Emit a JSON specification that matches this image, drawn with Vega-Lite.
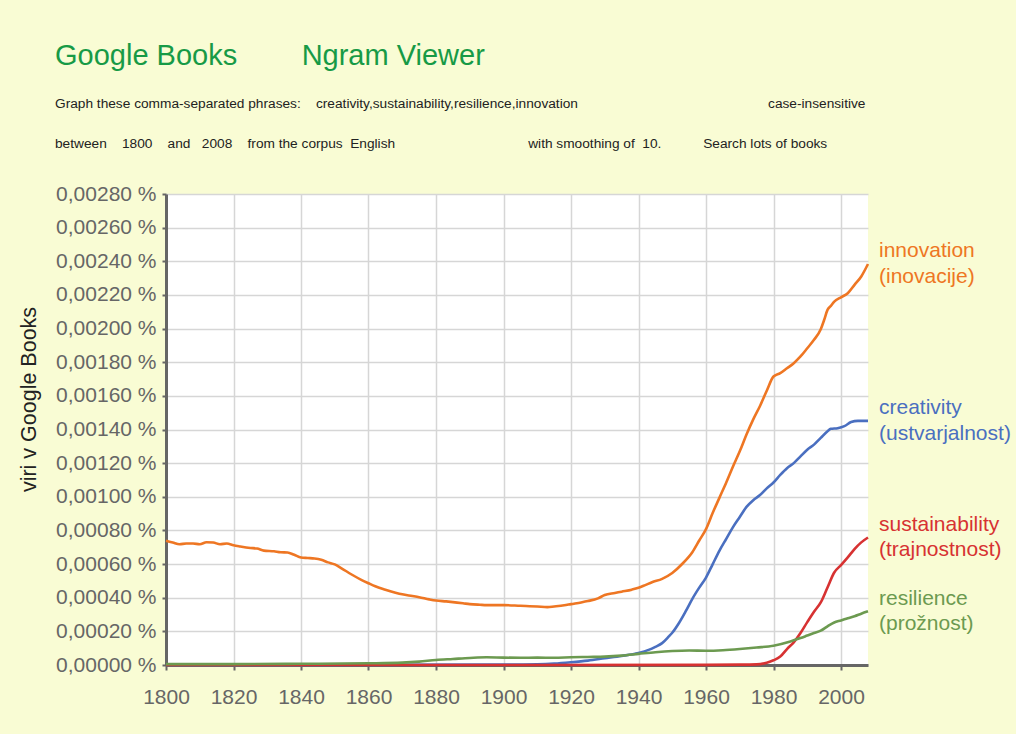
{
  "$schema": "https://vega.github.io/schema/vega-lite/v6.json",
  "width": 702,
  "height": 471,
  "autosize": {"type": "none"},
  "padding": {"left": 166, "top": 194, "right": 148, "bottom": 69},
  "background": "#f9fcd4",
  "title": {
    "text": "Google Books\u00a0\u00a0\u00a0\u00a0\u00a0\u00a0\u00a0 Ngram Viewer",
    "subtitle": [
      "Graph these comma-separated phrases:\u00a0\u00a0\u00a0\u00a0creativity,sustainability,resilience,innovation\u00a0\u00a0\u00a0\u00a0\u00a0\u00a0\u00a0\u00a0\u00a0\u00a0\u00a0\u00a0\u00a0\u00a0\u00a0\u00a0\u00a0\u00a0\u00a0\u00a0\u00a0\u00a0\u00a0\u00a0\u00a0\u00a0\u00a0\u00a0\u00a0\u00a0\u00a0\u00a0\u00a0\u00a0\u00a0\u00a0\u00a0\u00a0\u00a0\u00a0\u00a0\u00a0\u00a0\u00a0\u00a0\u00a0\u00a0\u00a0\u00a0\u00a0case-insensitive",
      "between\u00a0\u00a0\u00a0\u00a01800\u00a0\u00a0\u00a0\u00a0and\u00a0\u00a0\u00a02008\u00a0\u00a0\u00a0\u00a0from the corpus\u00a0\u00a0English\u00a0\u00a0\u00a0\u00a0\u00a0\u00a0\u00a0\u00a0\u00a0\u00a0\u00a0\u00a0\u00a0\u00a0\u00a0\u00a0\u00a0\u00a0\u00a0\u00a0\u00a0\u00a0\u00a0\u00a0\u00a0\u00a0\u00a0\u00a0\u00a0\u00a0\u00a0\u00a0\u00a0\u00a0\u00a0with smoothing of\u00a0\u00a010.\u00a0\u00a0\u00a0\u00a0\u00a0\u00a0\u00a0\u00a0\u00a0\u00a0\u00a0Search lots of books"
    ],
    "anchor": "start",
    "frame": "group",
    "dx": -111,
    "offset": 32,
    "font": "Liberation Sans",
    "fontSize": 29,
    "fontWeight": "normal",
    "color": "#179a46",
    "subtitleFont": "Liberation Sans",
    "subtitleFontSize": 13.7,
    "subtitleColor": "#222222",
    "subtitleLineHeight": 40,
    "subtitlePadding": 26
  },
  "config": {
    "view": {"fill": "white", "stroke": null},
    "axis": {
      "labelFont": "Liberation Sans",
      "titleFont": "Liberation Sans",
      "labelFontSize": 21,
      "labelColor": "#666666",
      "domainColor": "#666666",
      "domainWidth": 3,
      "tickColor": "#666666",
      "tickWidth": 2,
      "gridColor": "#d6d6d6",
      "gridWidth": 1.5
    }
  },
  "datasets": {
    "names": [
      {"w": "innovation", "label": "innovation\n(inovacije)"},
      {"w": "creativity", "label": "creativity\n(ustvarjalnost)"},
      {"w": "sustainability", "label": "sustainability\n(trajnostnost)"},
      {"w": "resilience", "label": "resilience\n(prožnost)"}
    ]
  },
  "data": {
    "values": [
      {"year": 1800, "w": "innovation", "v": 0.000738},
      {"year": 1802, "w": "innovation", "v": 0.000728},
      {"year": 1804, "w": "innovation", "v": 0.000718},
      {"year": 1806, "w": "innovation", "v": 0.000722},
      {"year": 1808, "w": "innovation", "v": 0.000722},
      {"year": 1810, "w": "innovation", "v": 0.000718},
      {"year": 1812, "w": "innovation", "v": 0.00073},
      {"year": 1814, "w": "innovation", "v": 0.000728},
      {"year": 1816, "w": "innovation", "v": 0.000718},
      {"year": 1818, "w": "innovation", "v": 0.000722},
      {"year": 1820, "w": "innovation", "v": 0.000712},
      {"year": 1822, "w": "innovation", "v": 0.000705},
      {"year": 1825, "w": "innovation", "v": 0.000696},
      {"year": 1827, "w": "innovation", "v": 0.000692},
      {"year": 1829, "w": "innovation", "v": 0.00068},
      {"year": 1832, "w": "innovation", "v": 0.000676},
      {"year": 1834, "w": "innovation", "v": 0.00067},
      {"year": 1836, "w": "innovation", "v": 0.000669},
      {"year": 1838, "w": "innovation", "v": 0.000655},
      {"year": 1840, "w": "innovation", "v": 0.000639},
      {"year": 1842, "w": "innovation", "v": 0.000636},
      {"year": 1844, "w": "innovation", "v": 0.000633},
      {"year": 1846, "w": "innovation", "v": 0.000625},
      {"year": 1848, "w": "innovation", "v": 0.00061},
      {"year": 1850, "w": "innovation", "v": 0.000598},
      {"year": 1852, "w": "innovation", "v": 0.000575},
      {"year": 1855, "w": "innovation", "v": 0.000538},
      {"year": 1858, "w": "innovation", "v": 0.000505},
      {"year": 1860, "w": "innovation", "v": 0.000486},
      {"year": 1862, "w": "innovation", "v": 0.000468},
      {"year": 1865, "w": "innovation", "v": 0.000448},
      {"year": 1868, "w": "innovation", "v": 0.00043},
      {"year": 1870, "w": "innovation", "v": 0.00042},
      {"year": 1873, "w": "innovation", "v": 0.00041},
      {"year": 1875, "w": "innovation", "v": 0.000403},
      {"year": 1878, "w": "innovation", "v": 0.00039},
      {"year": 1880, "w": "innovation", "v": 0.000383},
      {"year": 1883, "w": "innovation", "v": 0.000378},
      {"year": 1885, "w": "innovation", "v": 0.000374},
      {"year": 1888, "w": "innovation", "v": 0.000367},
      {"year": 1890, "w": "innovation", "v": 0.000362},
      {"year": 1893, "w": "innovation", "v": 0.000358},
      {"year": 1895, "w": "innovation", "v": 0.000356},
      {"year": 1900, "w": "innovation", "v": 0.000356},
      {"year": 1905, "w": "innovation", "v": 0.000352},
      {"year": 1910, "w": "innovation", "v": 0.000348},
      {"year": 1913, "w": "innovation", "v": 0.000344},
      {"year": 1915, "w": "innovation", "v": 0.000348},
      {"year": 1918, "w": "innovation", "v": 0.000355},
      {"year": 1920, "w": "innovation", "v": 0.000362},
      {"year": 1923, "w": "innovation", "v": 0.000372},
      {"year": 1925, "w": "innovation", "v": 0.00038},
      {"year": 1928, "w": "innovation", "v": 0.000396},
      {"year": 1930, "w": "innovation", "v": 0.000416},
      {"year": 1933, "w": "innovation", "v": 0.000428},
      {"year": 1935, "w": "innovation", "v": 0.000436},
      {"year": 1938, "w": "innovation", "v": 0.000448},
      {"year": 1940, "w": "innovation", "v": 0.000459},
      {"year": 1942, "w": "innovation", "v": 0.000475},
      {"year": 1944, "w": "innovation", "v": 0.000492},
      {"year": 1947, "w": "innovation", "v": 0.000512},
      {"year": 1950, "w": "innovation", "v": 0.000547},
      {"year": 1953, "w": "innovation", "v": 0.000602},
      {"year": 1956, "w": "innovation", "v": 0.000672},
      {"year": 1958, "w": "innovation", "v": 0.00074},
      {"year": 1960, "w": "innovation", "v": 0.000808},
      {"year": 1962, "w": "innovation", "v": 0.000905},
      {"year": 1964, "w": "innovation", "v": 0.000995},
      {"year": 1966, "w": "innovation", "v": 0.001085},
      {"year": 1968, "w": "innovation", "v": 0.00118},
      {"year": 1970, "w": "innovation", "v": 0.00127},
      {"year": 1972, "w": "innovation", "v": 0.00137},
      {"year": 1974, "w": "innovation", "v": 0.00146},
      {"year": 1976, "w": "innovation", "v": 0.00154},
      {"year": 1978, "w": "innovation", "v": 0.00163},
      {"year": 1980, "w": "innovation", "v": 0.001715},
      {"year": 1982, "w": "innovation", "v": 0.001735},
      {"year": 1984, "w": "innovation", "v": 0.001764},
      {"year": 1986, "w": "innovation", "v": 0.001794},
      {"year": 1988, "w": "innovation", "v": 0.001834},
      {"year": 1990, "w": "innovation", "v": 0.001883},
      {"year": 1992, "w": "innovation", "v": 0.001933},
      {"year": 1994, "w": "innovation", "v": 0.001996},
      {"year": 1995, "w": "innovation", "v": 0.002051},
      {"year": 1996, "w": "innovation", "v": 0.002111},
      {"year": 1997, "w": "innovation", "v": 0.002135},
      {"year": 1998, "w": "innovation", "v": 0.00216},
      {"year": 2000, "w": "innovation", "v": 0.002186},
      {"year": 2002, "w": "innovation", "v": 0.00221},
      {"year": 2004, "w": "innovation", "v": 0.00226},
      {"year": 2006, "w": "innovation", "v": 0.00231},
      {"year": 2008, "w": "innovation", "v": 0.002384},

      {"year": 1800, "w": "creativity", "v": 0.000001},
      {"year": 1850, "w": "creativity", "v": 0.000001},
      {"year": 1900, "w": "creativity", "v": 0.000002},
      {"year": 1910, "w": "creativity", "v": 0.000004},
      {"year": 1915, "w": "creativity", "v": 0.000008},
      {"year": 1920, "w": "creativity", "v": 0.000016},
      {"year": 1925, "w": "creativity", "v": 0.000026},
      {"year": 1930, "w": "creativity", "v": 0.00004},
      {"year": 1935, "w": "creativity", "v": 0.000054},
      {"year": 1940, "w": "creativity", "v": 0.000072},
      {"year": 1943, "w": "creativity", "v": 0.00009},
      {"year": 1945, "w": "creativity", "v": 0.000108},
      {"year": 1947, "w": "creativity", "v": 0.00013},
      {"year": 1949, "w": "creativity", "v": 0.00017},
      {"year": 1950, "w": "creativity", "v": 0.000192},
      {"year": 1952, "w": "creativity", "v": 0.00025},
      {"year": 1954, "w": "creativity", "v": 0.00032},
      {"year": 1956, "w": "creativity", "v": 0.000395},
      {"year": 1958, "w": "creativity", "v": 0.00046},
      {"year": 1960, "w": "creativity", "v": 0.00052},
      {"year": 1962, "w": "creativity", "v": 0.0006},
      {"year": 1964, "w": "creativity", "v": 0.00068},
      {"year": 1966, "w": "creativity", "v": 0.00075},
      {"year": 1968, "w": "creativity", "v": 0.00082},
      {"year": 1970, "w": "creativity", "v": 0.00088},
      {"year": 1972, "w": "creativity", "v": 0.00094},
      {"year": 1974, "w": "creativity", "v": 0.00098},
      {"year": 1976, "w": "creativity", "v": 0.00101},
      {"year": 1978, "w": "creativity", "v": 0.00105},
      {"year": 1980, "w": "creativity", "v": 0.001085},
      {"year": 1982, "w": "creativity", "v": 0.00113},
      {"year": 1984, "w": "creativity", "v": 0.00117},
      {"year": 1986, "w": "creativity", "v": 0.0012},
      {"year": 1988, "w": "creativity", "v": 0.00124},
      {"year": 1990, "w": "creativity", "v": 0.00128},
      {"year": 1992, "w": "creativity", "v": 0.00131},
      {"year": 1994, "w": "creativity", "v": 0.00135},
      {"year": 1996, "w": "creativity", "v": 0.00139},
      {"year": 1997, "w": "creativity", "v": 0.001404},
      {"year": 1999, "w": "creativity", "v": 0.001408},
      {"year": 2001, "w": "creativity", "v": 0.00142},
      {"year": 2003, "w": "creativity", "v": 0.001444},
      {"year": 2005, "w": "creativity", "v": 0.001451},
      {"year": 2008, "w": "creativity", "v": 0.001451},

      {"year": 1800, "w": "sustainability", "v": 0.0},
      {"year": 1900, "w": "sustainability", "v": 0.0},
      {"year": 1960, "w": "sustainability", "v": 0.000001},
      {"year": 1970, "w": "sustainability", "v": 0.000002},
      {"year": 1975, "w": "sustainability", "v": 0.000004},
      {"year": 1978, "w": "sustainability", "v": 0.000014},
      {"year": 1980, "w": "sustainability", "v": 0.000028},
      {"year": 1982, "w": "sustainability", "v": 0.00005},
      {"year": 1984, "w": "sustainability", "v": 0.000095},
      {"year": 1986, "w": "sustainability", "v": 0.000135},
      {"year": 1988, "w": "sustainability", "v": 0.00019},
      {"year": 1990, "w": "sustainability", "v": 0.000255},
      {"year": 1992, "w": "sustainability", "v": 0.000317},
      {"year": 1994, "w": "sustainability", "v": 0.000372},
      {"year": 1996, "w": "sustainability", "v": 0.000461},
      {"year": 1998, "w": "sustainability", "v": 0.00055},
      {"year": 2000, "w": "sustainability", "v": 0.000594},
      {"year": 2002, "w": "sustainability", "v": 0.00064},
      {"year": 2004, "w": "sustainability", "v": 0.000689},
      {"year": 2006, "w": "sustainability", "v": 0.000729},
      {"year": 2008, "w": "sustainability", "v": 0.000758},

      {"year": 1800, "w": "resilience", "v": 0.000005},
      {"year": 1820, "w": "resilience", "v": 0.000005},
      {"year": 1840, "w": "resilience", "v": 0.000007},
      {"year": 1860, "w": "resilience", "v": 0.00001},
      {"year": 1870, "w": "resilience", "v": 0.000014},
      {"year": 1875, "w": "resilience", "v": 0.00002},
      {"year": 1880, "w": "resilience", "v": 0.00003},
      {"year": 1885, "w": "resilience", "v": 0.000036},
      {"year": 1890, "w": "resilience", "v": 0.000042},
      {"year": 1895, "w": "resilience", "v": 0.000046},
      {"year": 1900, "w": "resilience", "v": 0.000044},
      {"year": 1905, "w": "resilience", "v": 0.000043},
      {"year": 1910, "w": "resilience", "v": 0.000044},
      {"year": 1915, "w": "resilience", "v": 0.000043},
      {"year": 1920, "w": "resilience", "v": 0.000046},
      {"year": 1925, "w": "resilience", "v": 0.000048},
      {"year": 1930, "w": "resilience", "v": 0.00005},
      {"year": 1935, "w": "resilience", "v": 0.000056},
      {"year": 1940, "w": "resilience", "v": 0.000066},
      {"year": 1945, "w": "resilience", "v": 0.000076},
      {"year": 1950, "w": "resilience", "v": 0.000083},
      {"year": 1955, "w": "resilience", "v": 0.000086},
      {"year": 1960, "w": "resilience", "v": 0.000085},
      {"year": 1965, "w": "resilience", "v": 0.000088},
      {"year": 1970, "w": "resilience", "v": 0.000095},
      {"year": 1975, "w": "resilience", "v": 0.000104},
      {"year": 1980, "w": "resilience", "v": 0.000115},
      {"year": 1985, "w": "resilience", "v": 0.00014},
      {"year": 1988, "w": "resilience", "v": 0.00016},
      {"year": 1990, "w": "resilience", "v": 0.000175},
      {"year": 1992, "w": "resilience", "v": 0.00019},
      {"year": 1994, "w": "resilience", "v": 0.000204},
      {"year": 1996, "w": "resilience", "v": 0.00023},
      {"year": 1998, "w": "resilience", "v": 0.000253},
      {"year": 2000, "w": "resilience", "v": 0.000265},
      {"year": 2002, "w": "resilience", "v": 0.000278},
      {"year": 2004, "w": "resilience", "v": 0.00029},
      {"year": 2006, "w": "resilience", "v": 0.000305},
      {"year": 2008, "w": "resilience", "v": 0.000319}
    ]
  },
  "encoding": {
    "x": {
      "field": "year",
      "type": "quantitative",
      "scale": {"domain": [1800, 2008], "nice": false, "zero": false},
      "axis": {
        "title": null,
        "values": [1800, 1820, 1840, 1860, 1880, 1900, 1920, 1940, 1960, 1980, 2000],
        "format": "d",
        "tickSize": 5,
        "labelPadding": 16,
        "labelFlush": false
      }
    },
    "y": {
      "field": "v",
      "type": "quantitative",
      "scale": {"domain": [0, 0.0028], "nice": false},
      "axis": {
        "title": "viri v Google Books",
        "titleFontSize": 21.5,
        "titleFontWeight": "normal",
        "titleColor": "#222222",
        "titlePadding": 15,
        "titleY": 205,
        "values": [0, 0.0002, 0.0004, 0.0006, 0.0008, 0.001, 0.0012, 0.0014, 0.0016, 0.0018, 0.002, 0.0022, 0.0024, 0.0026, 0.0028],
        "labelExpr": "replace(format(datum.value, '.5f'), '.', ',') + ' %'",
        "tickSize": 4,
        "labelPadding": 6
      }
    },
    "color": {
      "field": "w",
      "type": "nominal",
      "scale": {
        "domain": ["innovation", "creativity", "sustainability", "resilience"],
        "range": ["#ee7623", "#4a6fc0", "#d73232", "#6c9a50"]
      },
      "legend": null
    }
  },
  "layer": [
    {
      "mark": {"type": "line", "strokeWidth": 2.6, "interpolate": "monotone"}
    },
    {
      "transform": [
        {"filter": "datum.year == 2008"},
        {"lookup": "w", "from": {"data": {"name": "names"}, "key": "w", "fields": ["label"]}}
      ],
      "mark": {
        "type": "text",
        "align": "left",
        "baseline": "middle",
        "dx": 11,
        "dy": -12.5,
        "font": "Liberation Sans",
        "fontSize": 21,
        "lineBreak": "\n",
        "lineHeight": 25.5
      },
      "encoding": {"text": {"field": "label"}}
    }
  ]
}
